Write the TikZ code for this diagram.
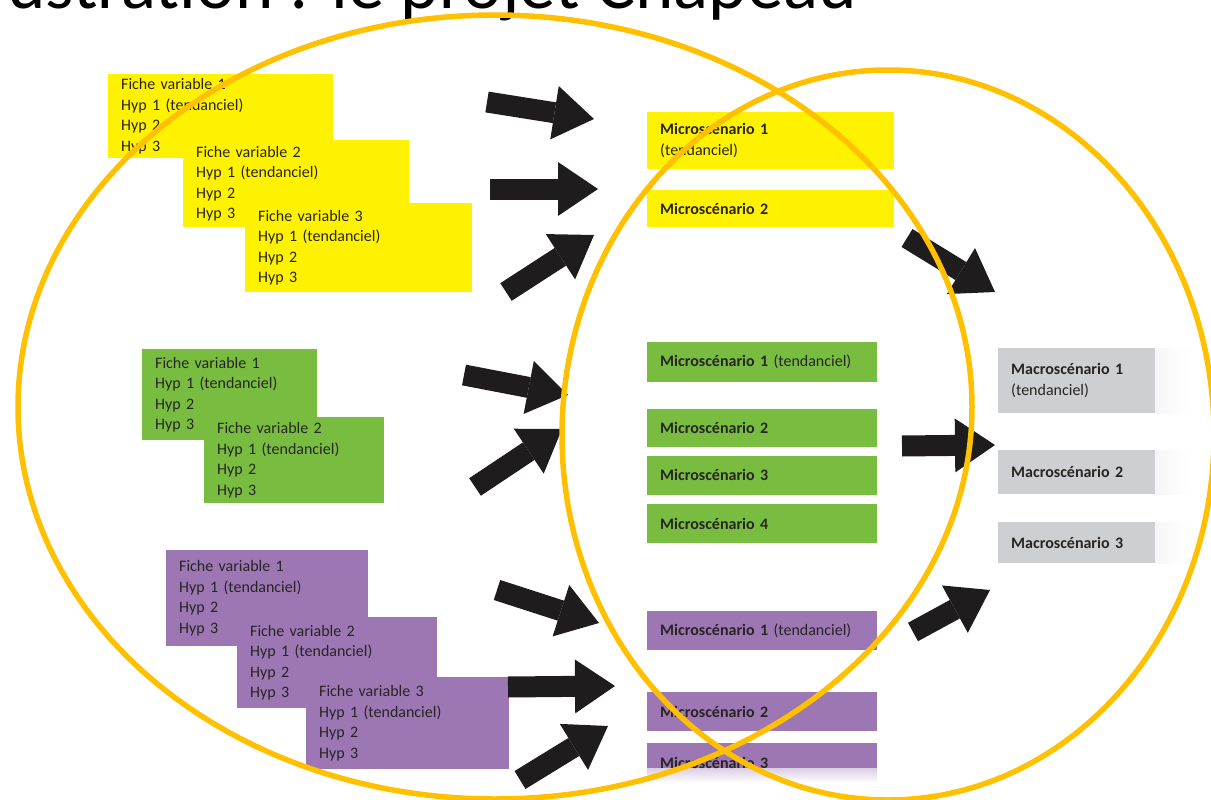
\documentclass[tikz,border=0pt]{standalone}
\usepackage{fontspec}
\setmainfont{Carlito}
\usetikzlibrary{positioning,arrows.meta}

\definecolor{ficheyellow}{RGB}{255,242,0}
\definecolor{fichegreen}{RGB}{120,189,64}
\definecolor{fichepurple}{RGB}{157,119,180}
\definecolor{macrogray}{RGB}{206,207,210}
\definecolor{ringorange}{RGB}{255,192,0}
\definecolor{boxtext}{RGB}{40,36,36}
\definecolor{arrowblack}{RGB}{30,28,28}

\newcommand{\fichelines}[1]{Fiche variable #1\\Hyp 1 (tendanciel)\\Hyp 2\\Hyp 3}

\begin{document}
\begin{tikzpicture}[x=1pt, y=-1pt,
    fiche/.style={anchor=north west, align=left, inner xsep=13pt, inner ysep=0pt,
      text=boxtext, font=\fontsize{16}{20.5}\selectfont},
    scen/.style={fiche, font=\fontsize{16}{21}\selectfont},
    bigarrow/.style={draw=arrowblack, line width=21pt,
      -{Triangle[length=40pt, width=54pt, line width=0pt]}},
    ring/.style={draw=ringorange, line width=5.5pt},
    faderight/.style={path picture={\shade[left color=macrogray, right color=white]
      ([xshift=-35pt]path picture bounding box.north east) rectangle (path picture bounding box.south east);}},
    fadedown/.style={path picture={\shade[top color=fichepurple, bottom color=white]
      ([yshift=14pt]path picture bounding box.south west) rectangle (path picture bounding box.south east);}}]

    \useasboundingbox (0,0) rectangle (1211,800);

    % title, cut by the page
    \node[anchor=base east, inner sep=0pt, font=\fontsize{73}{80}\selectfont] (title) at (857,9) {ustration : le projet Chapeau};

    % variable sheets
    \node[fiche, fill=ficheyellow, text width=199pt, minimum height=84pt] (y1) at (108,74) {\fichelines{1}};
    \node[fiche, fill=ficheyellow, text width=200pt, minimum height=87pt] (y2) at (183,140) {\fichelines{2}};
    \node[fiche, fill=ficheyellow, text width=201pt, minimum height=89pt] (y3) at (245,203) {\fichelines{3}};

    \node[fiche, fill=fichegreen, text width=149pt, minimum height=91pt] (g1) at (142,349) {\fichelines{1}};
    \node[fiche, fill=fichegreen, text width=154pt, minimum height=86pt] (g2) at (204,417) {\fichelines{2}};

    \node[fiche, fill=fichepurple, text width=176pt, minimum height=96pt] (p1) at (166,550) {\fichelines{1}};
    \node[fiche, fill=fichepurple, text width=174pt, minimum height=91pt] (p2) at (237,617) {\fichelines{2}};
    \node[fiche, fill=fichepurple, text width=177pt, minimum height=92pt] (p3) at (306,677) {\fichelines{3}};

    % microscenarios
    \node[scen, fill=ficheyellow, text width=221pt, minimum height=57pt] (my1) at (647,112) {\textbf{Microscénario 1}\\(tendanciel)};
    \node[scen, fill=ficheyellow, text width=221pt, minimum height=37pt] (my2) at (647,190) {\textbf{Microscénario 2}};

    \node[scen, fill=fichegreen, text width=204pt, minimum height=40pt] (mg1) at (647,342) {\textbf{Microscénario 1} (tendanciel)};
    \node[scen, fill=fichegreen, text width=204pt, minimum height=38pt] (mg2) at (647,409) {\textbf{Microscénario 2}};
    \node[scen, fill=fichegreen, text width=204pt, minimum height=39pt, below=8pt of mg2] (mg3) {\textbf{Microscénario 3}};
    \node[scen, fill=fichegreen, text width=204pt, minimum height=39pt, below=9pt of mg3] (mg4) {\textbf{Microscénario 4}};

    \node[scen, fill=fichepurple, text width=204pt, minimum height=39pt] (mp1) at (647,611) {\textbf{Microscénario 1} (tendanciel)};
    \node[scen, fill=fichepurple, text width=204pt, minimum height=39pt] (mp2) at (647,692) {\textbf{Microscénario 2}};
    \node[scen, fill=fichepurple, fadedown, text width=204pt, minimum height=40pt, below=11pt of mp2] (mp3) {\textbf{Microscénario 3}};

    % macroscenarios
    \node[scen, fill=macrogray, faderight, text width=166pt, minimum height=65pt] (ma1) at (998,348) {\textbf{Macroscénario 1}\\(tendanciel)};
    \node[scen, fill=macrogray, faderight, text width=166pt, minimum height=44pt] (ma2) at (998,450) {\textbf{Macroscénario 2}};
    \node[scen, fill=macrogray, faderight, text width=166pt, minimum height=41pt] (ma3) at (998,522) {\textbf{Macroscénario 3}};

    % block arrows
    \foreach \n/\from/\to in {1/{487,102}/{594,119}, 2/{490,189}/{598,189}, 3/{506,292}/{594,235},
        4/{464,375}/{568,395}, 5/{475,487}/{562,429},
        6/{497,590}/{599,623}, 7/{508,687}/{615,686}, 8/{520,780}/{608,726},
        9/{907,238}/{995,292}, 10/{902,446}/{995,445}, 11/{913,632}/{990,590}} {
      \coordinate (tail\n) at (\from);
      \coordinate (tip\n) at (\to);
      \draw[bigarrow] (tail\n) -- (tip\n);
    }

    % the two rings
    \draw[ring] (495,407) ellipse [x radius=477pt, y radius=392pt];
    \draw[ring] (888,435) ellipse [x radius=326pt, y radius=365pt];
\end{tikzpicture}
\end{document}
